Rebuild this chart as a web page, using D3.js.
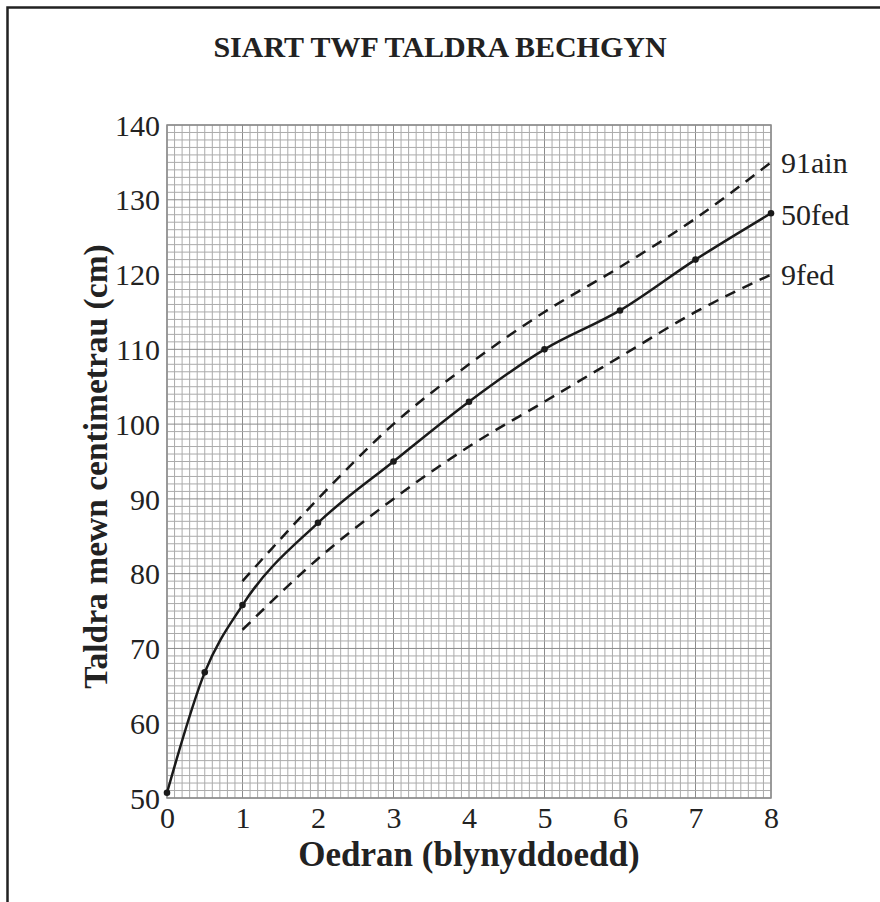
<!DOCTYPE html>
<html>
<head>
<meta charset="utf-8">
<script src="https://cdn.jsdelivr.net/npm/d3@7"></script>
<style>
  html, body { margin: 0; padding: 0; background: #fff; }
  svg { display: block; }
</style>
</head>
<body>
<svg id="chart" width="880" height="902"></svg>
<script>
// ---- data ----
const title = "SIART TWF TALDRA BECHGYN";
const xLabel = "Oedran (blynyddoedd)";
const yLabel = "Taldra mewn centimetrau (cm)";
const xTicks = [0, 1, 2, 3, 4, 5, 6, 7, 8];
const yTicks = [50, 60, 70, 80, 90, 100, 110, 120, 130, 140];
const ages50 = [0, 0.5, 1, 2, 3, 4, 5, 6, 7, 8];
const height50 = [50.7, 66.8, 75.8, 86.8, 95, 103, 110, 115.2, 122, 128.2];
const agesBand = [1, 2, 3, 4, 5, 6, 7, 8];
const height91 = [79, 90, 100, 108, 115, 121, 127.5, 135];
const height9 = [72.5, 82, 90, 97, 103, 109, 115, 120];
const curveLabels = ["91ain", "50fed", "9fed"];
const curveLabelValues = [135, 128, 120];

// ---- layout ----
const svg = d3.select("#chart");
const x = d3.scaleLinear().domain([0, 8]).range([167, 771]);
const y = d3.scaleLinear().domain([50, 140]).range([798, 125]);
const serif = "'Liberation Serif', 'Times New Roman', serif";

// outer frame
svg.append("rect")
  .attr("x", 7.5).attr("y", 7.5).attr("width", 900).attr("height", 900)
  .attr("fill", "none").attr("stroke", "#222").attr("stroke-width", 2.5);

// title
svg.append("text")
  .attr("x", 440).attr("y", 57)
  .attr("text-anchor", "middle")
  .attr("font-family", serif).attr("font-weight", "bold").attr("font-size", 30)
  .attr("fill", "#222")
  .text(title);

// grid
const g = svg.append("g");
const xMinor = d3.range(0, 81).map(i => i / 10);
const yMinor = d3.range(50, 141);
g.selectAll("line.vx").data(xMinor).join("line")
  .attr("x1", d => x(d)).attr("x2", d => x(d))
  .attr("y1", y(50)).attr("y2", y(140))
  .attr("stroke", (d, i) => i % 10 === 0 ? "#8c8c8c" : "#ababab")
  .attr("stroke-width", 1);
g.selectAll("line.hy").data(yMinor).join("line")
  .attr("y1", d => y(d)).attr("y2", d => y(d))
  .attr("x1", x(0)).attr("x2", x(8))
  .attr("stroke", (d, i) => i % 10 === 0 ? "#8c8c8c" : "#ababab")
  .attr("stroke-width", 1);
// plot border
g.append("rect")
  .attr("x", x(0)).attr("y", y(140))
  .attr("width", x(8) - x(0)).attr("height", y(50) - y(140))
  .attr("fill", "none").attr("stroke", "#8c8c8c").attr("stroke-width", 1.5);

// axes (labels only)
const xAxis = d3.axisBottom(x).tickValues(xTicks).tickSize(0).tickPadding(9);
const yAxis = d3.axisLeft(y).tickValues(yTicks).tickSize(0).tickPadding(7);
const gx = svg.append("g").attr("transform", `translate(0,${y(50)})`).call(xAxis);
const gy = svg.append("g").attr("transform", `translate(${x(0)},0)`).call(yAxis);
[gx, gy].forEach(a => {
  a.select(".domain").remove();
  a.selectAll("text").attr("font-family", serif).attr("font-size", 30).attr("fill", "#222");
});
gx.selectAll("text").attr("dy", "0.7em");
gy.selectAll("text").attr("dy", "0.34em");

// axis titles
svg.append("text")
  .attr("x", 469).attr("y", 866)
  .attr("text-anchor", "middle")
  .attr("font-family", serif).attr("font-weight", "bold").attr("font-size", 35)
  .attr("fill", "#222")
  .text(xLabel);
svg.append("text")
  .attr("transform", `translate(107,${(y(50) + y(140)) / 2 + 5}) rotate(-90)`)
  .attr("text-anchor", "middle")
  .attr("font-family", serif).attr("font-weight", "bold").attr("font-size", 33.5)
  .attr("fill", "#222")
  .text(yLabel);

// curves
const line = d3.line().curve(d3.curveMonotoneX).x(d => x(d[0])).y(d => y(d[1]));
const d50 = ages50.map((a, i) => [a, height50[i]]);
const d91 = agesBand.map((a, i) => [a, height91[i]]);
const d9 = agesBand.map((a, i) => [a, height9[i]]);

[d91, d9].forEach(d => {
  svg.append("path").attr("d", line(d))
    .attr("fill", "none").attr("stroke", "#1a1a1a").attr("stroke-width", 2.5)
    .attr("stroke-dasharray", "11,8");
});
svg.append("path").attr("d", line(d50))
  .attr("fill", "none").attr("stroke", "#1a1a1a").attr("stroke-width", 2.5);
svg.selectAll("circle.pt").data(d50).join("circle")
  .attr("cx", d => x(d[0])).attr("cy", d => y(d[1])).attr("r", 3.3)
  .attr("fill", "#1a1a1a");

// curve labels
svg.selectAll("text.cl").data(curveLabels).join("text")
  .attr("x", 781)
  .attr("y", (d, i) => y(curveLabelValues[i]))
  .attr("dy", "0.34em")
  .attr("font-family", serif).attr("font-size", 30).attr("fill", "#222")
  .text(d => d);
</script>
</body>
</html>
